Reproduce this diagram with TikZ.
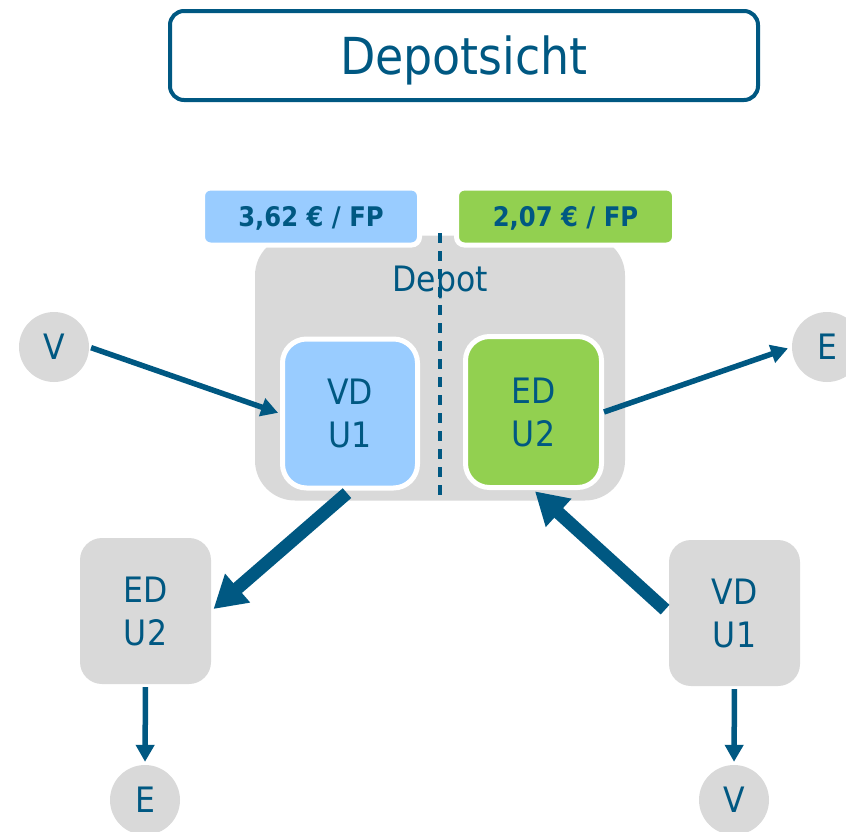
\documentclass[tikz,border=0pt]{standalone}
\usepackage{fontspec}
\setmainfont{DejaVu Sans Condensed}
\usetikzlibrary{arrows.meta}
\definecolor{dblue}{RGB}{0,88,130}
\definecolor{lblue}{RGB}{153,204,255}
\definecolor{lgreen}{RGB}{146,208,80}
\definecolor{lgray}{RGB}{217,217,217}
\begin{document}
\begin{tikzpicture}[x=1pt,y=-1pt,
  txt/.style={text=dblue, font=\fontsize{35}{43}\selectfont, align=center},
  innerbox/.style={txt, draw=white, line width=5pt, rounded corners=24pt, minimum width=135pt, minimum height=149pt, inner sep=0pt},
  outbox/.style={txt, fill=lgray, rounded corners=22pt, minimum width=131pt, minimum height=146pt, inner sep=0pt},
  endpt/.style={txt, circle, fill=lgray, minimum size=70pt, inner sep=0pt},
  price/.style={draw=white, line width=5pt, rounded corners=8pt, minimum height=57pt, inner sep=0pt, text=dblue, font=\bfseries\fontsize{27}{30}\selectfont, text height=20pt, text depth=0pt},
  thinarrow/.style={draw=dblue, line width=5.5pt, -{Triangle[length=17pt,width=18pt]}},
  thickarrow/.style={draw=dblue, line width=13pt, -{Triangle[length=32pt,width=36pt]}}]
\useasboundingbox (0,0) rectangle (846,831);
% title
\node (title) [draw=dblue, line width=4pt, rounded corners=14pt, minimum width=588pt, minimum height=89pt, inner sep=0pt, text=dblue, font=\fontsize{51}{60}\selectfont, text height=37pt, text depth=0pt] at (464,55.5) {Depotsicht};
% depot
\node (depot) [fill=lgray, rounded corners=40pt, minimum width=370pt, minimum height=265pt, inner sep=0pt] at (440,368) {};
\node (deplabel) [txt, text height=26pt, text depth=0pt, inner sep=0pt] at (440,278) {Depot};
\coordinate (dtop) at (440,233);
\coordinate (dbot) at (440,501);
\draw[dblue, line width=4pt, dash pattern=on 10pt off 8pt] (dtop) -- (dbot);
% prices
\node (p1) [price, fill=lblue, minimum width=217pt] at (311,216.5) {3,62 € / FP};
\node (p2) [price, fill=lgreen, minimum width=218pt] at (565.5,216.5) {2,07 € / FP};
% inner boxes
\node (vd1) [innerbox, fill=lblue] at (350,413.5) {VD\\U1};
\node (ed2) [innerbox, fill=lgreen, minimum width=136pt, minimum height=151pt] at (533.5,412) {ED\\U2};
% outer boxes
\node (edl) [outbox] at (145.5,611) {ED\\U2};
\node (vdr) [outbox] at (734.5,613) {VD\\U1};
% end points
\node (Vl) [endpt] at (54,347) {V};
\node (Er) [endpt] at (827,347) {E};
\node (El) [endpt] at (145,800) {E};
\node (Vr) [endpt] at (734,800) {V};
% arrows
\draw[thinarrow, shorten <=2pt, shorten >=2pt] (Vl.east) -- (vd1.west);
\draw[thinarrow, shorten >=4pt] (ed2.east) -- (Er.west);
\draw[thickarrow, shorten <=4pt, shorten >=3pt] (vd1.south) -- (edl.east);
\draw[thickarrow, shorten <=5pt, shorten >=2pt] (vdr.west) -- (ed2.south);
\draw[thinarrow, shorten <=3pt, shorten >=3pt] (edl.south) -- (El.north);
\draw[thinarrow, shorten <=3pt, shorten >=3pt] (vdr.south) -- (Vr.north);
\end{tikzpicture}
\end{document}
